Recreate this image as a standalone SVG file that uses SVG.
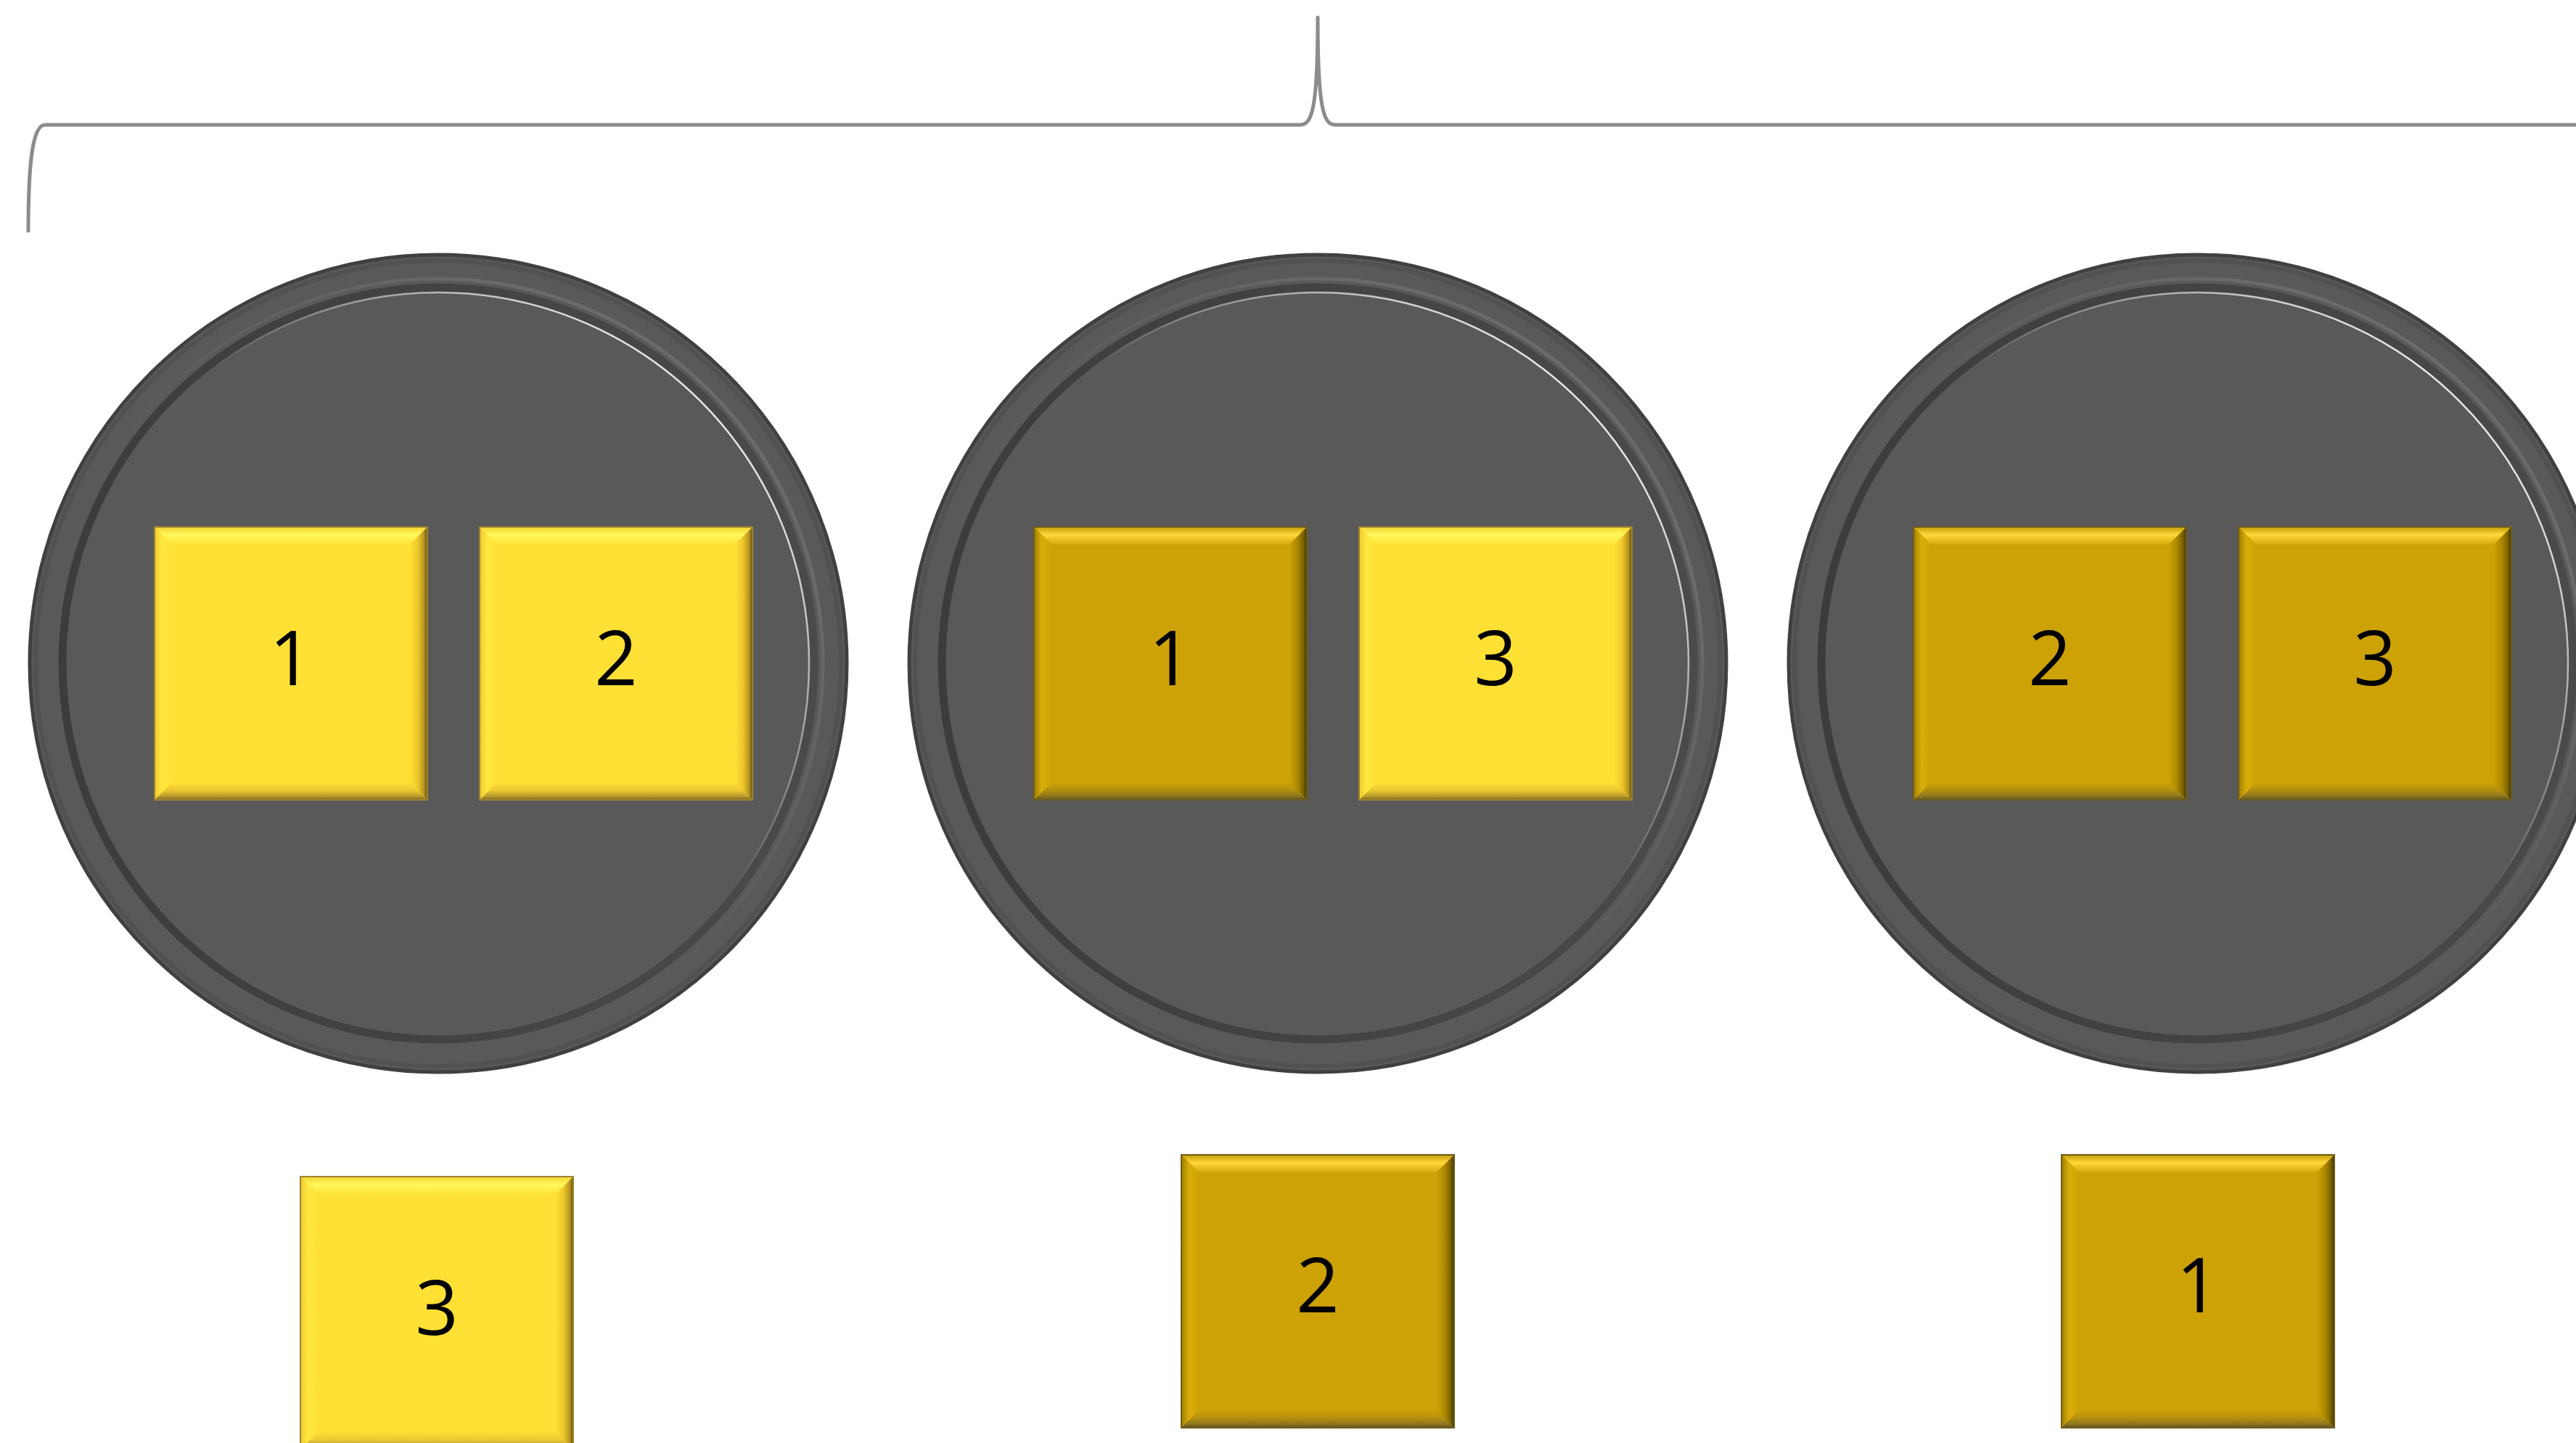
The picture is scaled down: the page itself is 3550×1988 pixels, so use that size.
<svg xmlns="http://www.w3.org/2000/svg" width="3550" height="1988" viewBox="0 0 3550 1988">
<style>
.brace{fill:none;stroke:#8c8c8c;stroke-width:5;stroke-linecap:round;stroke-linejoin:round}
.num{font-family:"Open Sans","Noto Sans","Liberation Sans",sans-serif;font-size:104px;fill:#000;text-anchor:middle}
</style>
<defs>
<linearGradient id="yT" x1="0" y1="0" x2="0" y2="1"><stop offset="0" stop-color="#F2D232"/><stop offset="0.45" stop-color="#FFF85C"/><stop offset="1" stop-color="#FFE43A"/></linearGradient>
<linearGradient id="yL" x1="0" y1="0" x2="1" y2="0"><stop offset="0" stop-color="#EFC92E"/><stop offset="0.45" stop-color="#FFE840"/><stop offset="1" stop-color="#FFE035"/></linearGradient>
<linearGradient id="yR" x1="0" y1="0" x2="1" y2="0"><stop offset="0" stop-color="#FFE035"/><stop offset="0.45" stop-color="#EDC62C"/><stop offset="0.8" stop-color="#B8951E"/><stop offset="1" stop-color="#5C4A10"/></linearGradient>
<linearGradient id="yB" x1="0" y1="0" x2="0" y2="1"><stop offset="0" stop-color="#FFDF35"/><stop offset="0.45" stop-color="#EDC833"/><stop offset="0.8" stop-color="#B89A2C"/><stop offset="1" stop-color="#7A6522"/></linearGradient>
<linearGradient id="gT" x1="0" y1="0" x2="0" y2="1"><stop offset="0" stop-color="#C49C08"/><stop offset="0.45" stop-color="#FFD83A"/><stop offset="1" stop-color="#D4AA0C"/></linearGradient>
<linearGradient id="gL" x1="0" y1="0" x2="1" y2="0"><stop offset="0" stop-color="#9E7E00"/><stop offset="0.45" stop-color="#D9AE0A"/><stop offset="1" stop-color="#CCA206"/></linearGradient>
<linearGradient id="gR" x1="0" y1="0" x2="1" y2="0"><stop offset="0" stop-color="#CCA206"/><stop offset="0.45" stop-color="#AD8902"/><stop offset="0.8" stop-color="#7A6100"/><stop offset="1" stop-color="#3F3400"/></linearGradient>
<linearGradient id="gB" x1="0" y1="0" x2="0" y2="1"><stop offset="0" stop-color="#CCA206"/><stop offset="0.45" stop-color="#B48F0E"/><stop offset="0.8" stop-color="#8C7420"/><stop offset="1" stop-color="#5E5020"/></linearGradient>
<linearGradient id="hl" x1="0" y1="1" x2="1" y2="0"><stop offset="0.55" stop-color="#ffffff" stop-opacity="0"/><stop offset="0.85" stop-color="#ffffff" stop-opacity="0.85"/><stop offset="1" stop-color="#ffffff" stop-opacity="0.6"/></linearGradient>
<linearGradient id="grv" x1="0" y1="0.5" x2="1" y2="0.5"><stop offset="0" stop-color="#3c3c3c"/><stop offset="1" stop-color="#4a4a4a"/></linearGradient>
<linearGradient id="band" x1="0" y1="1" x2="1" y2="0"><stop offset="0.3" stop-color="#5a5a5a" stop-opacity="0"/><stop offset="0.8" stop-color="#6c6c6c" stop-opacity="0.9"/></linearGradient>
<g id="dish">
<circle cx="0" cy="0" r="563" fill="#595959" stroke="#404040" stroke-width="5"/>
<circle cx="0" cy="0" r="555" fill="none" stroke="#4c4c4c" stroke-width="6" opacity="0.6"/>
<circle cx="0" cy="0" r="530" fill="none" stroke="url(#band)" stroke-width="5"/>
<circle cx="0" cy="0" r="518" fill="none" stroke="url(#grv)" stroke-width="11"/>
<circle cx="0" cy="0" r="511" fill="none" stroke="url(#hl)" stroke-width="2.5"/>
</g>
<g id="sqY">
<rect x="0" y="0" width="376" height="376" fill="#FFE035"/>
<polygon points="0,0 376,0 352,24 24,24" fill="url(#yT)"/>
<polygon points="0,0 24,24 24,352 0,376" fill="url(#yL)"/>
<polygon points="376,0 376,376 352,352 352,24" fill="url(#yR)"/>
<polygon points="0,376 24,352 352,352 376,376" fill="url(#yB)"/>
<rect x="0" y="0" width="376" height="376" fill="none" stroke="#9C8432" stroke-width="2"/>
</g>
<g id="sqG">
<rect x="0" y="0" width="376" height="376" fill="#CCA206"/>
<polygon points="0,0 376,0 352,24 24,24" fill="url(#gT)"/>
<polygon points="0,0 24,24 24,352 0,376" fill="url(#gL)"/>
<polygon points="376,0 376,376 352,352 352,24" fill="url(#gR)"/>
<polygon points="0,376 24,352 352,352 376,376" fill="url(#gB)"/>
<rect x="0" y="0" width="376" height="376" fill="none" stroke="#6E5C1E" stroke-width="2"/>
</g>
</defs>
<rect x="0" y="0" width="3550" height="1988" fill="#ffffff"/>

<g id="connectors">
<path class="brace" d="M39,318 C39,230 44,172 62,172 L1792,172 C1808,172 1816,150 1816,24 C1816,150 1824,172 1840,172 L3560,172"/>
</g>

<g id="circle-1">
<use href="#dish" x="604" y="914"/>
<g id="c1-sq1"><use href="#sqY" x="213" y="726"/><text class="num" x="401" y="944">1</text></g>
<g id="c1-sq2"><use href="#sqY" x="661" y="726"/><text class="num" x="849" y="944">2</text></g>
</g>
<g id="circle-2">
<use href="#dish" x="1816" y="914"/>
<g id="c2-sq1"><use href="#sqG" x="1425" y="726"/><text class="num" x="1613" y="944">1</text></g>
<g id="c2-sq2"><use href="#sqY" x="1873" y="726"/><text class="num" x="2061" y="944">3</text></g>
</g>
<g id="circle-3">
<use href="#dish" x="3028" y="914"/>
<g id="c3-sq1"><use href="#sqG" x="2637" y="726"/><text class="num" x="2825" y="944">2</text></g>
<g id="c3-sq2"><use href="#sqG" x="3085" y="726"/><text class="num" x="3273" y="944">3</text></g>
</g>
<g id="bottom-1"><use href="#sqY" x="414" y="1621"/><text class="num" x="602" y="1839">3</text></g>
<g id="bottom-2"><use href="#sqG" x="1628" y="1591"/><text class="num" x="1816" y="1808">2</text></g>
<g id="bottom-3"><use href="#sqG" x="2841" y="1591"/><text class="num" x="3029" y="1808">1</text></g>
</svg>
